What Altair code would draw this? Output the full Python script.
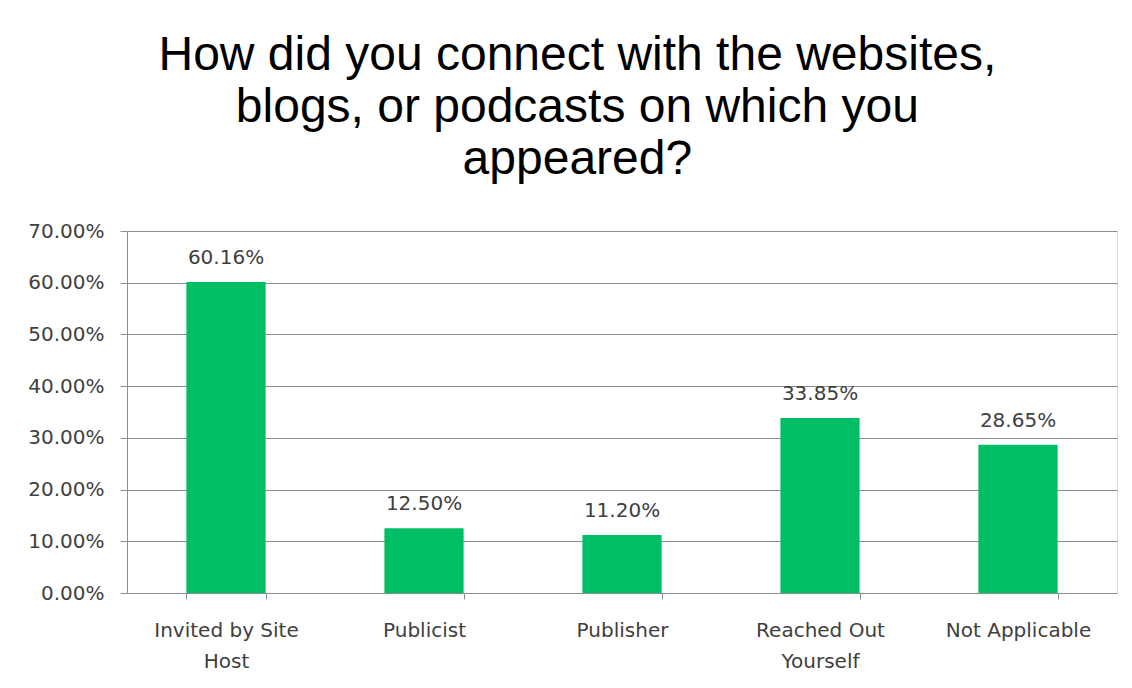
import altair as alt
import pandas as pd

categories = ["Invited by Site Host", "Publicist", "Publisher", "Reached Out Yourself", "Not Applicable"]
values = [0.6016, 0.1250, 0.1120, 0.3385, 0.2865]
y_ticks = [0.0, 0.1, 0.2, 0.3, 0.4, 0.5, 0.6, 0.7]
title_lines = ["How did you connect with the websites,", "blogs, or podcasts on which you", "appeared?"]

df = pd.DataFrame({"category": categories, "value": values})

label_expr = ("datum.value == 'Invited by Site Host' ? ['Invited by Site', 'Host'] : "
              "datum.value == 'Reached Out Yourself' ? ['Reached Out', 'Yourself'] : datum.value")

x = alt.X("category:N", sort=categories, title=None,
          scale=alt.Scale(paddingInner=0.6, paddingOuter=0.3),
          axis=alt.Axis(labelAngle=0, labelExpr=label_expr, labelFont="DejaVu Sans",
                        labelFontSize=20, labelColor="#404040", labelLineHeight=31,
                        labelPadding=21, tickSize=6, tickBand="extent",
                        tickColor="#8c8c8c", domainColor="#8c8c8c", grid=False))

y = alt.Y("value:Q", title=None,
          scale=alt.Scale(domain=[0, 0.7], nice=False),
          axis=alt.Axis(values=y_ticks, format=".2%", labelFont="DejaVu Sans",
                        labelFontSize=20, labelColor="#404040", labelPadding=16,
                        tickSize=7, tickColor="#8c8c8c", domainColor="#8c8c8c",
                        gridColor="#8c8c8c", gridWidth=1))

bars = alt.Chart(df).mark_bar(color="#00BE64").encode(x=x, y=y)

text = alt.Chart(df).mark_text(baseline="alphabetic", dy=-18, font="DejaVu Sans",
                               fontSize=20, color="#404040").encode(
    x=alt.X("category:N", sort=categories),
    y=alt.Y("value:Q"),
    text=alt.Text("value:Q", format=".2%"))

chart = (bars + text).properties(
    width=990, height=362,
    title=alt.TitleParams(text=title_lines, font="Liberation Sans", fontSize=48,
                          fontWeight="normal", color="#000000", lineHeight=52,
                          anchor="middle", frame="bounds", offset=37, dx=5),
    padding={"left": 19, "top": 24, "right": 5, "bottom": 5},
).configure_view(stroke=None).configure(background="white")

chart.save("out.html", embed_options={"renderer": "svg", "actions": False})
